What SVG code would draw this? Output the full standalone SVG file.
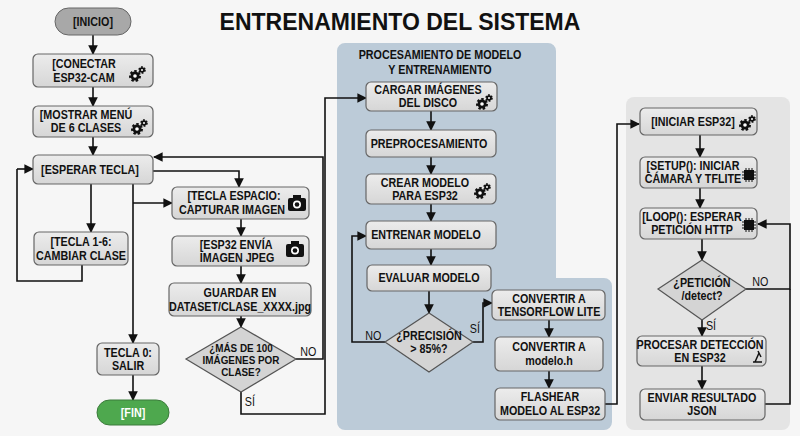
<svg xmlns="http://www.w3.org/2000/svg" width="800" height="436" viewBox="0 0 800 436">
<style>
text{font-family:"Liberation Sans",Arial,sans-serif;font-weight:bold;font-size:12.5px;fill:#111;text-anchor:middle;transform-box:fill-box;transform-origin:center;transform:scaleX(0.86)}
.n{fill:url(#g);stroke:#666;stroke-width:1.2}
.d{fill:#d4d4d4;stroke:#555;stroke-width:1.2}
.c{fill:none;stroke:#111;stroke-width:1.6;marker-end:url(#a)}
.l{fill:none;stroke:#111;stroke-width:1.6}
.lb{text-anchor:start;font-weight:normal;font-size:12.5px}
</style>
<defs>
<linearGradient id="g" x1="0" y1="0" x2="0" y2="1"><stop offset="0" stop-color="#ececec"/><stop offset="1" stop-color="#d6d6d6"/></linearGradient>
<marker id="a" viewBox="0 0 10 10" refX="9" refY="5" markerWidth="6" markerHeight="6" orient="auto-start-reverse"><path d="M0,0L10,5L0,10z" fill="#111"/></marker>
<g id="gears"><circle r="4.5" fill="#111" stroke="#111" stroke-width="3" stroke-dasharray="2.2 1.8"/><circle r="1.8" fill="#fff"/><circle cx="7" cy="-6" r="2.8" fill="#111" stroke="#111" stroke-width="2" stroke-dasharray="1.6 1.4"/><circle cx="7" cy="-6" r="1" fill="#fff"/></g>
<g id="cam"><rect x="-9" y="-6" width="18" height="13" rx="2" fill="#111"/><rect x="-4" y="-9" width="8" height="4" fill="#111"/><circle cy="0.5" r="4" fill="#fff"/><circle cy="0.5" r="2.3" fill="#111"/></g>
<g id="chip"><rect x="-5" y="-5" width="10" height="10" fill="#111"/><path d="M-7,-3h14M-7,0h14M-7,3h14M-3,-7v14M0,-7v14M3,-7v14" stroke="#111" stroke-width="1"/></g>
</defs>
<rect width="800" height="436" fill="#f6f6f6"/>
<text x="400" y="30" style="font-size:23px;transform:none">ENTRENAMIENTO DEL SISTEMA</text>

<path d="M345,43H548a8,8 0 0 1 8,8V278H604a8,8 0 0 1 8,8V422a8,8 0 0 1-8,8H345a8,8 0 0 1-8-8V51a8,8 0 0 1 8-8z" fill="#bccbd8"/>
<rect x="626" y="97" width="164" height="333" rx="8" fill="#e4e4e4"/>
<text x="440" y="59">PROCESAMIENTO DE MODELO</text>
<text x="440" y="74">Y ENTRENAMIENTO</text>

<g id="connectors">
<path class="c" d="M93,35V54"/>
<path class="c" d="M93,87V106"/>
<path class="c" d="M93,137V155"/>
<path class="c" d="M153,171H239V187"/>
<path class="c" d="M91,184V232"/>
<path class="l" d="M82,265V281H17V169"/><path class="c" d="M17,169H33"/>
<path class="c" d="M133,184V343"/>
<path class="c" d="M133,203H172"/>
<path class="c" d="M133,375V400"/>
<path class="c" d="M241,219V236"/>
<path class="c" d="M241,266V283"/>
<path class="c" d="M241,316V327"/>
<path class="c" d="M296,359H323V157H154"/>
<path class="c" d="M241,392V414H325V98H366"/>
<path class="c" d="M431,111V130"/>
<path class="c" d="M431,157V174"/>
<path class="c" d="M431,204V221"/>
<path class="c" d="M431,249V265"/>
<path class="c" d="M429,291V313"/>
<path class="c" d="M385,342H352V236H366"/>
<path class="c" d="M473,342H483V303H492"/>
<path class="c" d="M549,320V337"/>
<path class="c" d="M549,371V388"/>
<path class="c" d="M605,404H617V124H639"/>
<path class="c" d="M700,135V157"/>
<path class="c" d="M700,188V208"/>
<path class="c" d="M702,239V260"/>
<path class="c" d="M702,320V336"/>
<path class="c" d="M702,366V389"/>
<path class="c" d="M746,289H790V224H758"/>
<path class="l" d="M765,404H790V289"/>
<text class="lb" x="299" y="356">NO</text>
<text class="lb" x="244" y="406">SÍ</text>
<text class="lb" x="364" y="340">NO</text>
<text class="lb" x="469" y="333">SÍ</text>
<text class="lb" x="751" y="286">NO</text>
<text class="lb" x="705" y="330">SÍ</text>
</g>

<g id="inicio"><rect x="55" y="8" width="76" height="27" rx="13.5" fill="#a8a8a8" stroke="#666"/><text x="93" y="26">[INICIO]</text></g>
<g id="conectar"><rect class="n" x="33" y="54" width="120" height="33" rx="5"/><text x="84" y="68">[CONECTAR</text><text x="84" y="82">ESP32-CAM</text><use href="#gears" x="135" y="76"/></g>
<g id="mostrar"><rect class="n" x="33" y="106" width="120" height="31" rx="5"/><text x="86" y="119">[MOSTRAR MENÚ</text><text x="86" y="132">DE 6 CLASES</text><use href="#gears" x="137" y="129"/></g>
<g id="esperar"><rect class="n" x="33" y="155" width="120" height="29" rx="5"/><text x="90" y="174">[ESPERAR TECLA]</text></g>
<g id="tecla16"><rect class="n" x="34" y="232" width="94" height="33" rx="5"/><text x="81" y="246">[TECLA 1-6:</text><text x="81" y="260">CAMBIAR CLASE</text></g>
<g id="espacio"><rect class="n" x="172" y="187" width="137" height="32" rx="5"/><text x="234" y="200">[TECLA ESPACIO:</text><text x="232" y="214">CAPTURAR IMAGEN</text><use href="#cam" x="297" y="204"/></g>
<g id="envia"><rect class="n" x="172" y="236" width="137" height="30" rx="5"/><text x="236" y="249">[ESP32 ENVÍA</text><text x="237" y="262">IMAGEN JPEG</text><use href="#cam" x="295" y="250"/></g>
<g id="guardar"><rect class="n" x="169" y="283" width="142" height="33" rx="5"/><text x="240" y="297">GUARDAR EN</text><text x="240" y="311">DATASET/CLASE_XXXX.jpg</text></g>
<g id="mas100"><path class="d" d="M241,327L296,359L241,392L186,359z"/><text x="241" y="352" style="font-size:11.5px">¿MÁS DE 100</text><text x="241" y="364" style="font-size:11.5px">IMÁGENES POR</text><text x="241" y="376" style="font-size:11.5px">CLASE?</text></g>
<g id="tecla0"><rect class="n" x="97" y="343" width="62" height="32" rx="5"/><text x="128" y="357">TECLA 0:</text><text x="128" y="370">SALIR</text></g>
<g id="fin"><rect x="97" y="400" width="72" height="25" rx="12.5" fill="#4ea84e" stroke="#3a7a3a"/><text x="133" y="417" style="fill:#fff">[FIN]</text></g>

<g id="cargar"><rect class="n" x="366" y="82" width="131" height="29" rx="5"/><text x="428" y="94">CARGAR IMÁGENES</text><text x="428" y="107">DEL DISCO</text><use href="#gears" x="482" y="104"/></g>
<g id="prepro"><rect class="n" x="366" y="130" width="130" height="27" rx="5"/><text x="429" y="148">PREPROCESAMIENTO</text></g>
<g id="crear"><rect class="n" x="366" y="174" width="130" height="30" rx="5"/><text x="425" y="187">CREAR MODELO</text><text x="425" y="200">PARA ESP32</text><use href="#gears" x="480" y="193"/></g>
<g id="entrenar"><rect class="n" x="366" y="221" width="130" height="28" rx="5"/><text x="426" y="239">ENTRENAR MODELO</text></g>
<g id="evaluar"><rect class="n" x="367" y="265" width="124" height="26" rx="5"/><text x="429" y="282">EVALUAR MODELO</text></g>
<g id="precision"><path class="d" d="M429,313L473,342L429,372L385,342z"/><text x="429" y="340">¿PRECISIÓN</text><text x="429" y="353">&gt; 85%?</text></g>
<g id="tflite"><rect class="n" x="492" y="290" width="113" height="30" rx="5"/><text x="549" y="303">CONVERTIR A</text><text x="549" y="316">TENSORFLOW LITE</text></g>
<g id="modeloh"><rect class="n" x="495" y="337" width="108" height="34" rx="5"/><text x="549" y="351">CONVERTIR A</text><text x="549" y="365">modelo.h</text></g>
<g id="flashear"><rect class="n" x="495" y="388" width="110" height="32" rx="5"/><text x="550" y="401">FLASHEAR</text><text x="550" y="415">MODELO AL ESP32</text></g>

<g id="iniciar"><rect class="n" x="640" y="108" width="117" height="27" rx="5"/><text x="693" y="126">[INICIAR ESP32]</text><use href="#gears" x="745" y="125"/></g>
<g id="setup"><rect class="n" x="640" y="157" width="117" height="31" rx="5"/><text x="693" y="170">[SETUP(): INICIAR</text><text x="693" y="183">CÁMARA Y TFLITE</text><use href="#chip" x="749" y="175"/></g>
<g id="loop"><rect class="n" x="640" y="208" width="117" height="31" rx="5"/><text x="692" y="221">[LOOP(): ESPERAR</text><text x="692" y="234">PETICIÓN HTTP</text><use href="#chip" x="749" y="225"/></g>
<g id="peticion"><path class="d" d="M702,260L746,289L702,320L658,289z"/><text x="702" y="287">¿PETICIÓN</text><text x="702" y="300">/detect?</text></g>
<g id="procesar"><rect class="n" x="637" y="336" width="129" height="30" rx="5"/><text x="700" y="349">PROCESAR DETECCIÓN</text><text x="700" y="362">EN ESP32</text><path d="M753,362h9M755,362l4-9M758,351l3,6" stroke="#111" stroke-width="1.5" fill="none"/></g>
<g id="enviar"><rect class="n" x="640" y="389" width="125" height="31" rx="5"/><text x="702" y="402">ENVIAR RESULTADO</text><text x="702" y="415">JSON</text></g>
</svg>
